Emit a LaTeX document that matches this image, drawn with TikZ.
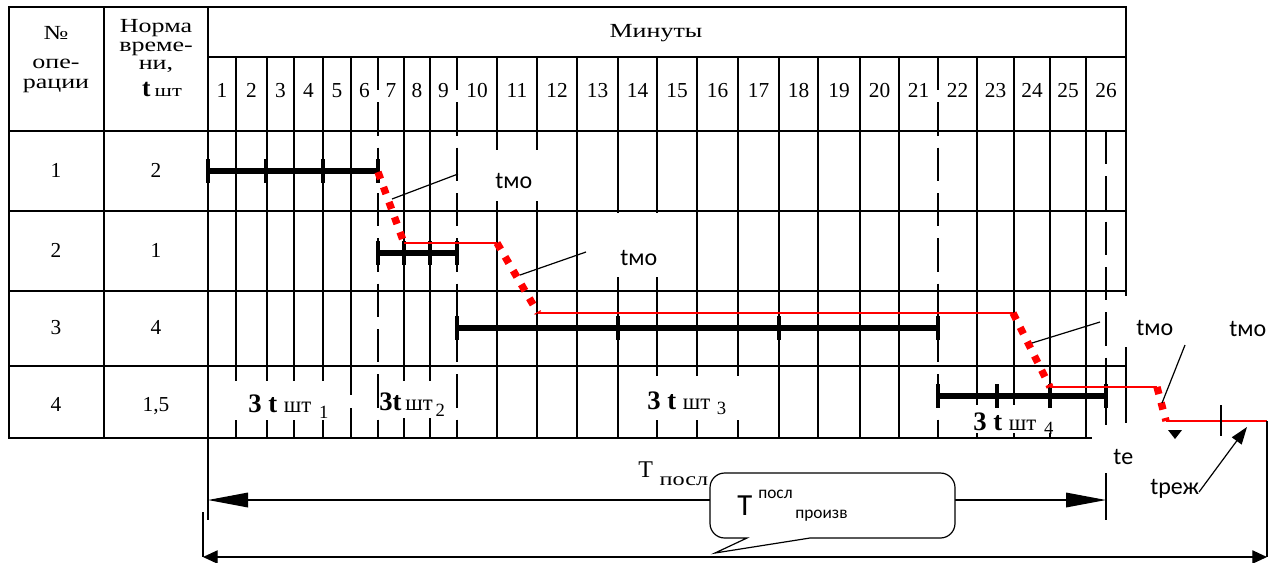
\documentclass[tikz,border=0pt]{standalone}
\usepackage{fontspec}
\setmainfont{Liberation Serif}
\newfontfamily\wideserif[FakeStretch=1.3]{Liberation Serif}
\newfontfamily\calib{Carlito}
\usetikzlibrary{arrows.meta}

\begin{document}
\begin{tikzpicture}[x=0.75pt,y=-0.75pt,
  gridline/.style={line width=0.9pt},
  dashline/.style={line width=0.9pt, dash pattern=on 25pt off 9pt},
  mask/.style={fill=white},
  bar/.style={line width=3.8pt},
  tick/.style={line width=3.4pt},
  redlink/.style={red, line width=1.3pt},
  reddots/.style={red, line width=5.5pt, dash pattern=on 5.5pt off 6.5pt},
  leader/.style={line width=0.9pt},
  hdr/.style={font=\wideserif\fontsize{15}{16}\selectfont, inner sep=0pt, anchor=base},
  num/.style={font=\fontsize{16}{16}\selectfont, inner sep=0pt, anchor=base},
  sanslbl/.style={font=\calib\fontsize{18}{18}\selectfont, inner sep=0pt, anchor=base west},
  shtlbl/.style={inner sep=0pt, anchor=base west},
  bigtip/.tip={Triangle[length=30pt,width=11pt]},
  smalltip/.tip={Triangle[length=11pt,width=10pt]},
]
\useasboundingbox (0,0) rectangle (1280,562);

% ---------------- table frame ----------------
\draw[gridline] (9,7) rectangle (1126,438);
\draw[gridline] (208,57) -- (1126,57);
\foreach \y in {131,211,291,366} \draw[gridline] (9,\y) -- (1126,\y);
\draw[gridline] (104,7) -- (104,438);
\draw[gridline] (208,7) -- (208,520);
% minute columns
\foreach \x in {236,267,294,323,351,404,430,497,537,577,618,657,697,738,779,818,860,899,977,1014,1050,1086}
  \draw[gridline] (\x,57) -- (\x,438);
\foreach \x in {378,457,938}
  \draw[dashline] (\x,57) -- (\x,438);

% ---------------- white label areas ----------------
\fill[mask] (462,150) rectangle (552,201);
\fill[mask] (588,213) rectangle (683,277);
\fill[mask] (1100,296) rectangle (1200,347);
\fill[mask] (232,381) rectangle (346,420);
\fill[mask] (318,395) rectangle (356,408);
\fill[mask] (381,381) rectangle (455,418);
\fill[mask] (645,376) rectangle (742,420);
\fill[mask] (965,405) rectangle (1070,433);
\fill[mask] (1092,423) rectangle (1162,472);

% ---------------- header texts ----------------
\node[hdr] (hno) at (56,39) {№};
\node[hdr] (hop1) at (56,68) {опе-};
\node[hdr] (hop2) at (56,88) {рации};
\node[hdr] (hn1) at (156,32) {Норма};
\node[hdr] (hn2) at (156,51) {време-};
\node[hdr] (hn3) at (156,69) {ни,};
\node[num] (hn4) at (162,96) {\fontsize{19}{19}\selectfont\bfseries t\,{\mdseries\wideserif\fontsize{13}{13}\selectfont шт}};
\node[hdr] (hmin) at (656,37) {Минуты};

\foreach \a/\b [count=\n] in {208/236,236/267,267/294,294/323,323/351,351/378,378/404,404/430,430/457,457/497,497/537,537/577,577/618,618/657,657/697,697/738,738/779,779/818,818/860,860/899,899/938,938/977,977/1014,1014/1050,1050/1086,1086/1126}
  \node[num] (min\n) at ({(\a+\b)/2},97) {\n};

% operation numbers and time norms
\node[num] (op1) at (56,177) {1};
\node[num] (nt1) at (156,177) {2};
\node[num] (op2) at (56,257) {2};
\node[num] (nt2) at (156,257) {1};
\node[num] (op3) at (56,334) {3};
\node[num] (nt3) at (156,334) {4};
\node[num] (op4) at (56,411) {4};
\node[num] (nt4) at (156,411) {1,5};

% ---------------- operation bars ----------------
\draw[bar] (208,171) -- (378,171);
\foreach \x in {208,266,323,378} \draw[tick] (\x,159) -- (\x,183);
\draw[bar] (378,253) -- (457,253);
\foreach \x in {378,404,430,457} \draw[tick] (\x,241) -- (\x,265);
\draw[bar] (457,328) -- (938,328);
\foreach \x in {457,618,779,938} \draw[tick] (\x,316) -- (\x,340);
\draw[bar] (938,396) -- (1106,396);
\foreach \x in {938,997,1050,1106} \draw[tick] (\x,384) -- (\x,408);

% end of the last operation
\draw[dashline] (1106,131) -- (1106,425);
\draw[gridline] (1106,473) -- (1106,520);

% ---------------- labels 3 t_sht ----------------
\node[shtlbl] (s1) at (248,412) {\fontsize{20}{20}\selectfont\bfseries 3 t\hspace{5pt}{\mdseries\fontsize{17}{17}\selectfont шт}\hspace{6pt}\raisebox{-5pt}{\mdseries\fontsize{14}{14}\selectfont 1}};
\node[shtlbl] (s2) at (379,410) {\fontsize{20}{20}\selectfont\bfseries 3t\hspace{3pt}{\mdseries\fontsize{17}{17}\selectfont шт}\hspace{2pt}\raisebox{-5pt}{\mdseries\fontsize{14}{14}\selectfont 2}};
\node[shtlbl] (s3) at (647,409) {\fontsize{20}{20}\selectfont\bfseries 3 t\hspace{5pt}{\mdseries\fontsize{17}{17}\selectfont шт}\hspace{5pt}\raisebox{-4pt}{\mdseries\fontsize{14}{14}\selectfont 3}};
\node[shtlbl] (s4) at (973,430) {\fontsize{20}{20}\selectfont\bfseries 3 t\hspace{5pt}{\mdseries\fontsize{17}{17}\selectfont шт}\hspace{6pt}\raisebox{-3pt}{\mdseries\fontsize{14}{14}\selectfont 4}};

% ---------------- combined schedule (red) ----------------
\coordinate (r0) at (378,172);
\coordinate (r1) at (404,243);
\coordinate (r2) at (497,243);
\coordinate (r3) at (538,313);
\coordinate (r4) at (1013,313);
\coordinate (r5) at (1050,387);
\coordinate (r6) at (1157,387);
\coordinate (r7) at (1166,421);
\coordinate (r8) at (1267,421);
\coordinate (r9) at (1267,557);
\draw[reddots] (r0) -- (r1);
\draw[redlink] (r1) -- (r2);
\draw[reddots] (r2) -- (r3);
\draw[redlink] (r3) -- (r4);
\draw[reddots] (r4) -- (r5);
\draw[redlink] (r5) -- (r6);
\draw[reddots] (r6) -- (r7);
\draw[redlink] (r7) -- (r8);

% ---------------- transfer time labels ----------------
\node[sanslbl] (tmo1) at (495,188) {tмо};
\node[sanslbl] (tmo2) at (620,265) {tмо};
\node[sanslbl] (tmo3) at (1136,335) {tмо};
\node[sanslbl] (tmo4) at (1229,336) {tмо};
\coordinate (a1) at (392,199);  \coordinate (b1) at (458,174);
\coordinate (a2) at (520,275);  \coordinate (b2) at (586,252);
\coordinate (a3) at (1032,343); \coordinate (b3) at (1100,322);
\coordinate (a4) at (1162,403); \coordinate (b4) at (1185,345);
\draw[leader] (a1) -- (b1);
\draw[leader] (a2) -- (b2);
\draw[leader] (a3) -- (b3);
\draw[leader] (a4) -- (b4);

% ---------------- t_e and t_rezh ----------------
\node[sanslbl] (te) at (1113,464) {tе};
\fill (1168,430) -- (1182,430) -- (1175,439) -- cycle;
\draw[gridline] (1221,405) -- (1221,436);
\node[sanslbl] (trezh) at (1150,494) {tреж};
\coordinate (c1) at (1199,492);
\coordinate (c2) at (1247,427);
\draw[leader, -{Triangle[length=13pt,width=9pt]}] (c1) -- (c2);

% ---------------- cycle lengths ----------------
\coordinate (p0) at (208,500);
\coordinate (p1) at (1106,500);
\draw[gridline, {bigtip}-{bigtip}] (p0) -- (p1);
\node[anchor=base west, inner sep=0pt] (tposl) at (638,477)
  {\fontsize{18}{18}\selectfont T\hspace{5pt}\raisebox{-6pt}{\wideserif\fontsize{14}{14}\selectfont посл}};

\coordinate (q0) at (203,512);
\coordinate (q1) at (203,557);
\draw[gridline] (q0) -- (q1);
\draw[gridline] (r8) -- (r9);
\draw[gridline, {smalltip}-{smalltip}] (q1) -- (r9);

% ---------------- callout ----------------
\draw[line width=0.9pt, fill=white] (747,538) [rounded corners=11pt] -- (710,538) -- (710,473) -- (955,473) -- (955,538) [sharp corners] -- (810,538) -- (715,553) -- cycle;
\node[anchor=base west, inner sep=0pt] (cT) at (737,515) {\calib\fontsize{23}{23}\selectfont T};
\node[anchor=base west, inner sep=0pt] (cup) at (758,498) {\calib\fontsize{13}{13}\selectfont посл};
\node[anchor=base west, inner sep=0pt] (clo) at (795,518) {\calib\fontsize{13}{13}\selectfont произв};
\end{tikzpicture}
\end{document}
